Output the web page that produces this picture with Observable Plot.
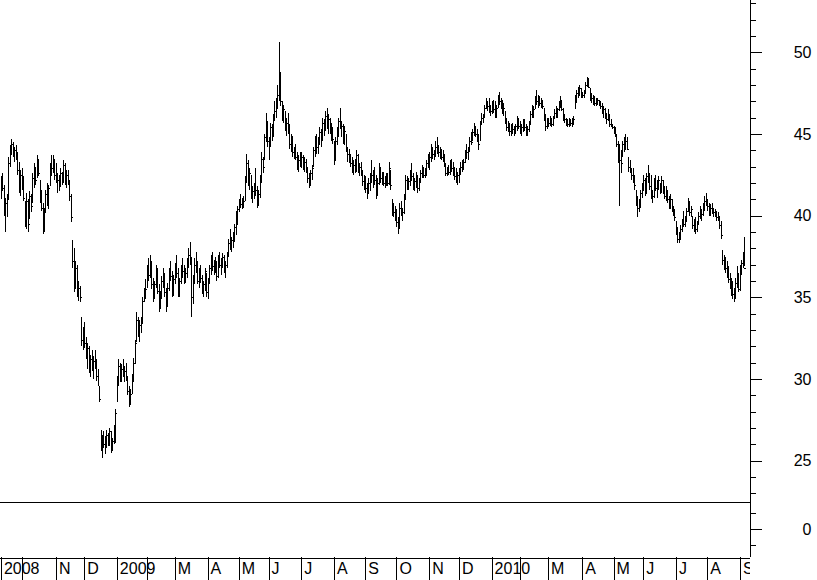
<!DOCTYPE html>
<html><head><meta charset="utf-8">
<script src="https://cdn.jsdelivr.net/npm/d3@7"></script>
<script src="https://cdn.jsdelivr.net/npm/@observablehq/plot@0.6"></script>
<style>
body{margin:0;background:#fff;}
#chart svg{display:block;}
</style></head><body><div id="chart"></div>
<script>
// Month labels drawn at each month start (empty = label hidden in the original)
const monthLabels = ["2008","","N","D","2009","","M","A","M","J","J","A","S","O","N","D","2010","","M","A","M","J","J","A","S"];
const priceTicks = [25,30,35,40,45,50];
const priceMinorTicks = [23,24,25,26,27,28,29,30,31,32,33,34,35,36,37,38,39,40,41,42,43,44,45,46,47,48,49,50,51,52,53];
const lowerTicks = [0];
const lowerMinorTicks = [-1,1];

// daily bars per month: [high, low, close]
const sep08 = [[42.4,41.0,42.0],[42.6,41.5,41.7],[41.9,40.0,40.3],[41.1,39.0,40.8],[41.3,39.9,41.0],[43.6,41.0,43.2],[44.3,43.0,44.0],[44.7,43.7,44.4],[44.5,43.6,43.9],[44.2,43.3,44.0],[44.3,43.4,43.6],[43.9,42.5,42.8],[43.3,41.4,41.6],[42.8,41.2,42.5]];
const oct08 = [[42.9,41.6,42.0],[42.4,40.9,41.1],[40.9,39.3,39.8],[41.4,39.2,40.9],[41.0,39.0,39.5],[41.5,39.8,41.2],[41.3,40.2,40.6],[42.6,40.8,42.3],[43.2,41.7,42.8],[43.0,41.9,42.2],[43.7,42.3,43.4],[43.5,42.4,42.6],[42.2,40.8,41.0],[41.6,40.3,40.5],[40.8,38.9,39.2],[40.5,39.0,40.2],[41.6,40.2,41.3],[42.0,40.6,40.8],[41.9,40.4,41.7],[43.2,41.8,43.0],[43.7,42.4,42.9],[43.7,42.6,43.4],[43.5,42.2,42.5]];
const nov08 = [[43.2,42.0,42.3],[42.6,41.4,42.2],[42.5,41.5,41.8],[42.9,41.8,42.6],[42.7,41.9,42.1],[43.4,42.0,43.1],[43.2,41.9,42.3],[42.8,41.7,42.5],[42.8,41.9,42.0],[42.2,40.9,41.2],[41.3,39.6,39.9],[38.5,36.8,37.2],[38.0,35.3,36.0],[37.2,35.5,36.8],[37.0,35.0,35.4],[36.0,34.8,35.6],[35.7,34.7,35.0],[33.8,32.0,32.4],[33.2,31.8,32.8]];
const dec08 = [[33.5,31.9,32.2],[32.6,31.2,31.5],[32.2,30.6,31.9],[32.0,30.4,30.8],[31.5,30.1,31.2],[31.8,30.5,30.7],[31.4,30.0,31.1],[31.8,30.6,31.5],[31.2,29.9,30.2],[30.6,29.6,29.9],[29.6,28.6,28.8],[26.9,25.6,26.1],[26.6,25.2,26.3],[26.8,25.8,26.0],[26.5,25.4,26.2],[26.9,25.8,26.6],[26.7,25.9,26.1],[27.0,25.9,26.8],[26.8,25.5,25.8],[26.4,25.6,26.2],[27.2,26.0,27.0],[28.2,26.1,27.9]];
const jan09 = [[30.2,28.6,29.9],[31.2,29.6,30.8],[31.0,29.8,30.1],[30.9,29.8,30.6],[31.2,30.1,30.4],[30.8,29.8,30.5],[31.0,29.9,30.2],[30.1,29.0,29.3],[29.6,28.3,28.6],[29.4,28.4,29.1],[30.3,29.1,30.0],[31.3,29.8,31.0],[32.4,30.9,32.2],[34.1,32.3,33.6],[33.8,32.6,32.9],[33.6,32.3,33.3],[33.8,32.8,33.5],[35.0,33.4,34.8],[35.6,34.7,35.3],[36.1,34.9,35.5]];
const feb09 = [[37.0,35.6,36.7],[37.4,36.0,36.4],[37.6,36.2,37.2],[37.2,35.5,35.8],[36.2,34.7,35.1],[36.0,34.9,35.8],[37.0,35.6,36.6],[36.8,35.2,35.4],[35.8,34.1,34.4],[35.4,34.3,35.1],[36.3,34.9,36.0],[36.8,35.6,36.3],[36.5,35.0,35.3],[35.6,34.1,34.5],[35.9,34.4,35.6],[36.8,35.4,36.5],[37.2,36.0,36.3],[36.6,35.0,35.4],[36.4,35.1,36.1]];
const mar09 = [[37.1,35.8,36.9],[37.6,36.2,36.5],[36.8,35.0,35.3],[36.2,35.0,36.0],[37.0,35.8,36.8],[37.4,36.2,36.6],[37.0,35.8,36.2],[36.8,35.9,36.5],[37.4,36.2,37.1],[38.0,36.8,37.6],[38.4,37.0,37.3],[37.5,33.8,35.0],[36.4,34.6,36.1],[37.4,35.8,37.0],[37.8,36.5,36.8],[37.2,35.8,36.0],[36.8,35.6,36.5],[37.0,35.9,36.2],[36.4,35.2,35.6],[36.0,35.0,35.8],[36.8,35.4,36.6],[36.5,35.0,35.3]];
const apr09 = [[36.2,34.9,35.9],[37.0,35.8,36.8],[37.6,36.4,37.2],[37.8,36.6,36.9],[37.3,36.4,37.0],[37.5,36.5,36.7],[37.2,36.0,36.3],[37.6,36.2,37.4],[37.8,36.8,37.0],[37.4,36.4,37.2],[37.7,36.8,37.5],[37.6,36.5,36.8],[37.2,36.2,37.0],[37.8,36.8,37.6],[38.6,37.5,38.3],[39.2,37.9,38.2],[38.7,37.8,38.5],[39.0,38.0,38.8],[39.5,38.4,39.3],[40.3,38.8,40.0],[40.6,39.4,40.4]];
const may09 = [[41.0,40.2,40.8],[41.3,40.5,40.7],[41.1,40.4,41.0],[41.2,40.5,40.9],[42.4,40.9,42.1],[43.8,42.0,43.2],[43.4,41.8,42.0],[42.9,41.6,42.6],[42.5,41.0,41.3],[41.8,40.8,41.5],[42.0,41.0,41.8],[42.9,41.2,41.6],[41.8,40.5,40.8],[41.6,40.6,41.3],[42.5,41.1,42.2],[43.9,42.0,43.5],[43.6,42.6,43.0],[45.0,43.4,44.8],[46.3,44.5,45.2],[45.8,44.2,44.6]];
const jun09 = [[44.8,43.4,44.5],[45.7,44.2,45.4],[45.6,44.6,44.9],[46.2,44.8,46.0],[47.0,45.8,46.4],[47.2,46.0,46.8],[48.0,46.5,47.4],[50.6,47.0,48.2],[48.8,46.7,47.0],[47.0,45.8,46.2],[46.8,45.7,46.5],[46.4,45.2,45.5],[46.0,44.9,45.7],[46.3,45.0,45.2],[45.6,44.1,44.4],[45.0,43.9,44.6],[44.9,43.6,43.9],[44.2,43.5,44.0],[44.4,43.4,43.6],[43.9,42.8,43.2],[43.7,42.7,43.4],[43.9,43.0,43.3]];
const jul09 = [[43.9,42.9,43.6],[43.7,42.8,43.0],[43.6,42.7,43.3],[43.5,42.6,42.8],[43.0,42.0,42.3],[42.6,41.7,42.0],[42.8,41.8,42.6],[43.1,42.2,42.9],[44.2,43.0,44.0],[44.9,43.6,44.6],[45.0,43.8,44.2],[44.8,43.8,44.5],[45.4,44.3,45.1],[45.3,44.2,44.7],[46.0,44.6,45.7],[45.9,44.9,45.2],[46.4,45.2,46.1],[46.6,45.3,45.6],[46.2,45.0,45.9],[46.0,45.0,45.3],[45.7,44.6,45.1],[45.4,44.4,44.7]];
const aug09 = [[44.6,43.1,43.4],[44.8,43.4,44.6],[45.4,44.3,45.0],[46.0,44.8,45.8],[46.6,45.3,45.6],[45.8,44.8,45.5],[45.6,44.4,44.8],[45.5,44.3,45.2],[45.0,43.9,44.1],[44.2,43.3,43.8],[44.1,43.2,43.5],[43.8,43.0,43.2],[43.6,42.6,42.9],[43.4,42.5,43.1],[43.5,42.6,42.8],[44.0,42.7,43.7],[43.8,42.6,42.9],[43.2,42.4,43.0],[43.3,42.4,42.6],[42.8,41.8,42.1],[42.5,41.6,42.3]];
const sep09 = [[42.4,41.4,41.7],[42.0,41.0,41.8],[42.3,41.3,42.0],[42.6,41.5,42.4],[43.4,42.0,42.5],[42.8,41.7,42.6],[43.0,41.9,42.2],[42.5,41.0,41.3],[42.3,41.2,42.0],[43.2,41.9,42.8],[43.0,42.0,42.3],[42.7,41.9,42.5],[42.7,41.8,42.0],[42.4,41.7,42.2],[42.6,41.8,42.4],[42.6,41.8,42.0],[43.3,41.9,42.9],[42.8,41.6,41.9],[41.0,40.0,40.4],[40.8,39.9,40.2],[40.6,39.7,40.0]];
const oct09 = [[40.4,39.3,39.6],[39.9,38.9,39.4],[40.8,39.2,40.5],[40.9,40.0,40.3],[40.5,39.7,40.2],[41.3,40.1,41.0],[42.5,41.0,42.2],[42.4,41.6,41.9],[42.3,41.6,42.1],[42.8,41.8,42.6],[43.2,42.1,42.4],[42.6,41.6,41.8],[42.3,41.5,42.1],[42.7,41.7,42.5],[42.5,41.4,41.7],[42.3,41.5,42.1],[42.8,42.0,42.6],[43.1,42.3,42.8],[43.0,42.3,42.5],[42.9,42.3,42.7],[43.4,42.4,43.2],[43.8,42.9,43.4]];
const nov09 = [[43.9,42.8,43.6],[44.4,43.3,44.0],[44.2,43.5,43.8],[44.0,43.4,43.9],[44.6,43.6,44.2],[44.8,43.8,44.0],[44.3,43.6,43.9],[44.2,43.5,44.1],[44.1,43.4,43.6],[44.0,43.3,43.8],[43.8,43.0,43.2],[43.2,42.4,42.6],[43.0,42.4,42.8],[43.1,42.5,42.7],[43.4,42.5,43.2],[43.5,42.7,42.9],[43.3,42.4,42.6],[43.0,42.2,42.4],[42.9,42.0,42.3],[42.7,41.9,42.5]];
const dec09 = [[42.9,42.0,42.6],[43.3,42.5,43.0],[43.4,42.7,43.1],[43.5,42.8,43.3],[44.0,43.2,43.8],[44.4,43.5,43.9],[44.2,43.4,44.0],[44.8,43.9,44.6],[45.1,44.3,44.5],[45.3,44.6,45.1],[45.7,44.9,45.3],[45.5,44.8,45.0],[45.3,44.5,44.8],[45.0,44.0,44.4],[45.8,44.6,45.6],[46.3,45.6,46.0],[46.2,45.7,46.1],[46.8,46.0,46.6],[47.2,46.5,46.8],[47.0,46.4,46.7],[47.2,46.3,46.5],[46.8,46.1,46.4]];
const jan10 = [[47.0,46.2,46.8],[47.1,46.3,46.5],[47.0,46.0,46.3],[46.8,46.0,46.6],[47.4,46.6,47.2],[47.6,46.8,47.0],[47.2,46.5,46.9],[47.1,46.2,46.4],[46.9,46.1,46.6],[46.4,45.6,45.8],[46.0,45.2,45.4],[45.8,45.1,45.6],[45.7,44.9,45.2],[45.6,44.9,45.4],[45.7,45.0,45.3],[45.5,44.9,45.1],[45.6,45.0,45.5],[46.1,45.2,45.8],[46.0,45.3,45.5]];
const feb10 = [[45.8,45.0,45.2],[45.6,44.9,45.4],[45.9,45.1,45.7],[45.9,45.2,45.4],[45.6,44.9,45.1],[45.5,44.9,45.3],[45.8,45.1,45.6],[46.4,45.6,46.2],[46.8,46.0,46.4],[46.7,46.0,46.5],[47.3,46.5,47.1],[47.7,46.8,47.0],[47.4,46.6,47.2],[47.3,46.7,46.9],[47.2,46.6,47.0],[47.1,46.5,46.7],[46.6,45.8,46.0],[46.2,45.2,45.5],[46.0,45.3,45.8]];
const mar10 = [[46.0,45.4,45.7],[46.1,45.5,45.9],[46.0,45.4,45.6],[46.1,45.5,45.8],[46.5,45.9,46.3],[46.7,46.0,46.2],[46.6,46.0,46.5],[47.0,46.4,46.8],[47.3,46.6,47.0],[47.1,46.4,46.5],[46.6,45.8,46.0],[46.2,45.7,45.9],[46.0,45.5,45.7],[45.9,45.4,45.6],[46.0,45.4,45.8],[45.9,45.5,45.7],[46.0,45.4,45.6],[46.1,45.6,45.9],[47.4,46.5,47.2],[47.7,46.9,47.5],[47.9,47.2,47.6],[48.0,47.3,47.8],[47.8,47.2,47.4]];
const apr10 = [[47.6,47.2,47.4],[47.7,47.2,47.5],[48.2,47.5,48.0],[48.5,47.9,48.3],[48.4,47.8,47.9],[47.8,47.0,47.3],[47.5,46.9,47.2],[47.4,46.8,47.1],[47.3,46.7,46.9],[47.2,46.7,47.0],[47.2,46.8,47.1],[47.1,46.7,46.8],[47.0,46.5,46.7],[46.9,46.2,46.4],[46.7,46.0,46.5],[46.6,45.9,46.0],[46.3,45.6,45.9],[46.5,45.8,46.2],[46.2,45.4,45.6],[45.9,45.4,45.7],[45.6,45.3,45.4]];
const may10 = [[45.5,45.0,45.3],[45.4,44.8,45.0],[45.0,44.2,44.4],[44.6,43.2,43.5],[44.4,40.6,43.4],[44.0,42.6,43.2],[44.6,43.6,44.4],[44.8,43.9,44.2],[45.0,44.0,44.6],[44.8,44.0,44.1],[43.6,42.7,43.0],[43.4,42.6,42.9],[42.9,42.2,42.5],[42.9,42.0,42.3],[42.5,41.6,41.9],[41.6,40.6,40.8],[41.2,39.9,40.5],[41.0,40.2,40.6],[41.6,40.5,41.4],[42.0,41.1,41.8]];
const jun10 = [[42.5,41.5,42.2],[42.3,41.2,41.4],[42.6,41.4,42.4],[43.1,42.0,42.2],[42.6,41.6,41.8],[42.5,41.0,41.3],[41.6,40.8,41.2],[42.3,41.1,42.0],[42.5,41.5,41.7],[42.2,41.1,41.9],[42.4,41.6,42.2],[42.0,41.3,41.5],[42.4,41.4,42.2],[42.2,41.3,41.6],[41.8,41.0,41.2],[41.8,40.9,41.5],[41.6,40.8,41.0],[41.2,40.4,40.6],[41.3,40.4,41.0],[41.0,40.2,40.4],[40.6,40.0,40.2],[40.4,39.7,39.9]];
const jul10 = [[39.7,38.8,39.0],[39.3,38.3,38.6],[39.0,38.3,38.8],[39.4,38.5,39.2],[39.8,39.0,39.6],[40.3,39.3,39.5],[40.0,39.3,39.8],[40.5,39.6,40.3],[41.1,40.2,40.9],[40.9,40.0,40.2],[40.6,39.9,40.4],[40.0,39.2,39.4],[39.8,39.0,39.6],[39.9,38.9,39.2],[39.7,39.0,39.5],[40.2,39.4,40.0],[40.6,39.8,40.3],[40.4,39.7,40.1],[40.8,40.0,40.6],[41.2,40.3,40.9],[41.4,40.6,40.8]];
const aug10 = [[41.0,40.3,40.6],[40.8,40.0,40.2],[40.7,40.0,40.5],[40.8,40.1,40.3],[40.5,39.9,40.2],[40.4,39.9,40.1],[40.3,39.7,39.9],[40.2,39.7,40.0],[40.0,39.2,39.4],[39.7,38.6,38.8],[37.9,37.0,37.3],[37.6,36.7,37.2],[37.5,36.5,36.8],[37.2,36.2,36.5],[36.9,35.9,36.1],[36.5,35.5,35.8],[36.2,35.1,35.4],[36.0,34.9,35.2],[35.6,34.7,35.0],[36.2,34.9,35.9],[36.9,35.6,35.8],[36.5,35.3,35.5]];
const sep10 = [[37.0,35.4,36.8],[37.3,36.4,37.1],[37.8,36.8,37.6],[38.7,36.9,36.8]];

const months = [sep08,oct08,nov08,dec08,jan09,feb09,mar09,apr09,may09,jun09,jul09,aug09,sep09,oct09,nov09,dec09,jan10,feb10,mar10,apr10,may10,jun10,jul10,aug10,sep10];

// build the bar table (index = trading day)
const bars = [];
const monthStarts = [];
months.forEach(m => {
  monthStarts.push(bars.length);
  m.forEach(([high, low, close]) => bars.push({i: bars.length, high, low, close}));
});

const X_DOMAIN = [-0.592, 503.78];
const FONT = "'Liberation Sans', Arial, Helvetica, sans-serif";
const W = 817, MR = 67;
const crisp = {stroke: "#000", shapeRendering: "crispEdges"};
const labelOpts = {anchor: "right", tickSize: 11, tickPadding: 50, textAnchor: "end", fontSize: 16, label: null, ...crisp};

const price = Plot.plot({
  width: W, height: 501,
  marginLeft: 0, marginRight: MR, marginTop: 0, marginBottom: 0,
  x: {domain: X_DOMAIN, axis: null},
  y: {domain: [22.54, 53.2]},
  style: {fontFamily: FONT, color: "#000", background: "#fff", overflow: "visible"},
  marks: [
    Plot.ruleX(bars, {x: "i", y1: "low", y2: "high", ...crisp}),
    Plot.ruleY(bars, {y: "close", x1: "i", x2: d => d.i + 1.3, ...crisp}),
    Plot.axisY(priceMinorTicks, {anchor: "right", tickSize: 5, tickFormat: () => "", label: null, ...crisp}),
    Plot.axisY(priceTicks, labelOpts),
    Plot.ruleX([X_DOMAIN[1]], crisp)
  ]
});

const lower = Plot.plot({
  width: W, height: 56,
  marginLeft: 0, marginRight: MR, marginTop: 0, marginBottom: 0,
  x: {domain: X_DOMAIN, axis: null},
  y: {domain: [-1.714, 1.714]},
  style: {fontFamily: FONT, color: "#000", background: "#fff", overflow: "visible"},
  marks: [
    Plot.ruleY([1.714], {...crisp, dy: 0.5}),
    Plot.axisY(lowerMinorTicks, {anchor: "right", tickSize: 5, tickFormat: () => "", label: null, ...crisp}),
    Plot.axisY(lowerTicks, labelOpts),
    Plot.ruleX([X_DOMAIN[1]], crisp)
  ]
});

const monthsAxis = Plot.plot({
  width: W, height: 23,
  marginLeft: 0, marginRight: MR, marginTop: 0, marginBottom: 0,
  x: {domain: X_DOMAIN, axis: null},
  y: {domain: [0, 1], axis: null},
  style: {fontFamily: FONT, color: "#000", background: "#fff"},
  marks: [
    Plot.ruleY([1], {...crisp, dy: 0.5}),
    Plot.ruleX(monthStarts, {x: d => d, ...crisp}),
    Plot.text(monthStarts, {x: d => d, text: (d, k) => monthLabels[k], textAnchor: "start", dx: 2.5, fontSize: 16, fill: "#000", clip: true})
  ]
});

document.getElementById("chart").append(price, lower, monthsAxis);
</script>
</body></html>
